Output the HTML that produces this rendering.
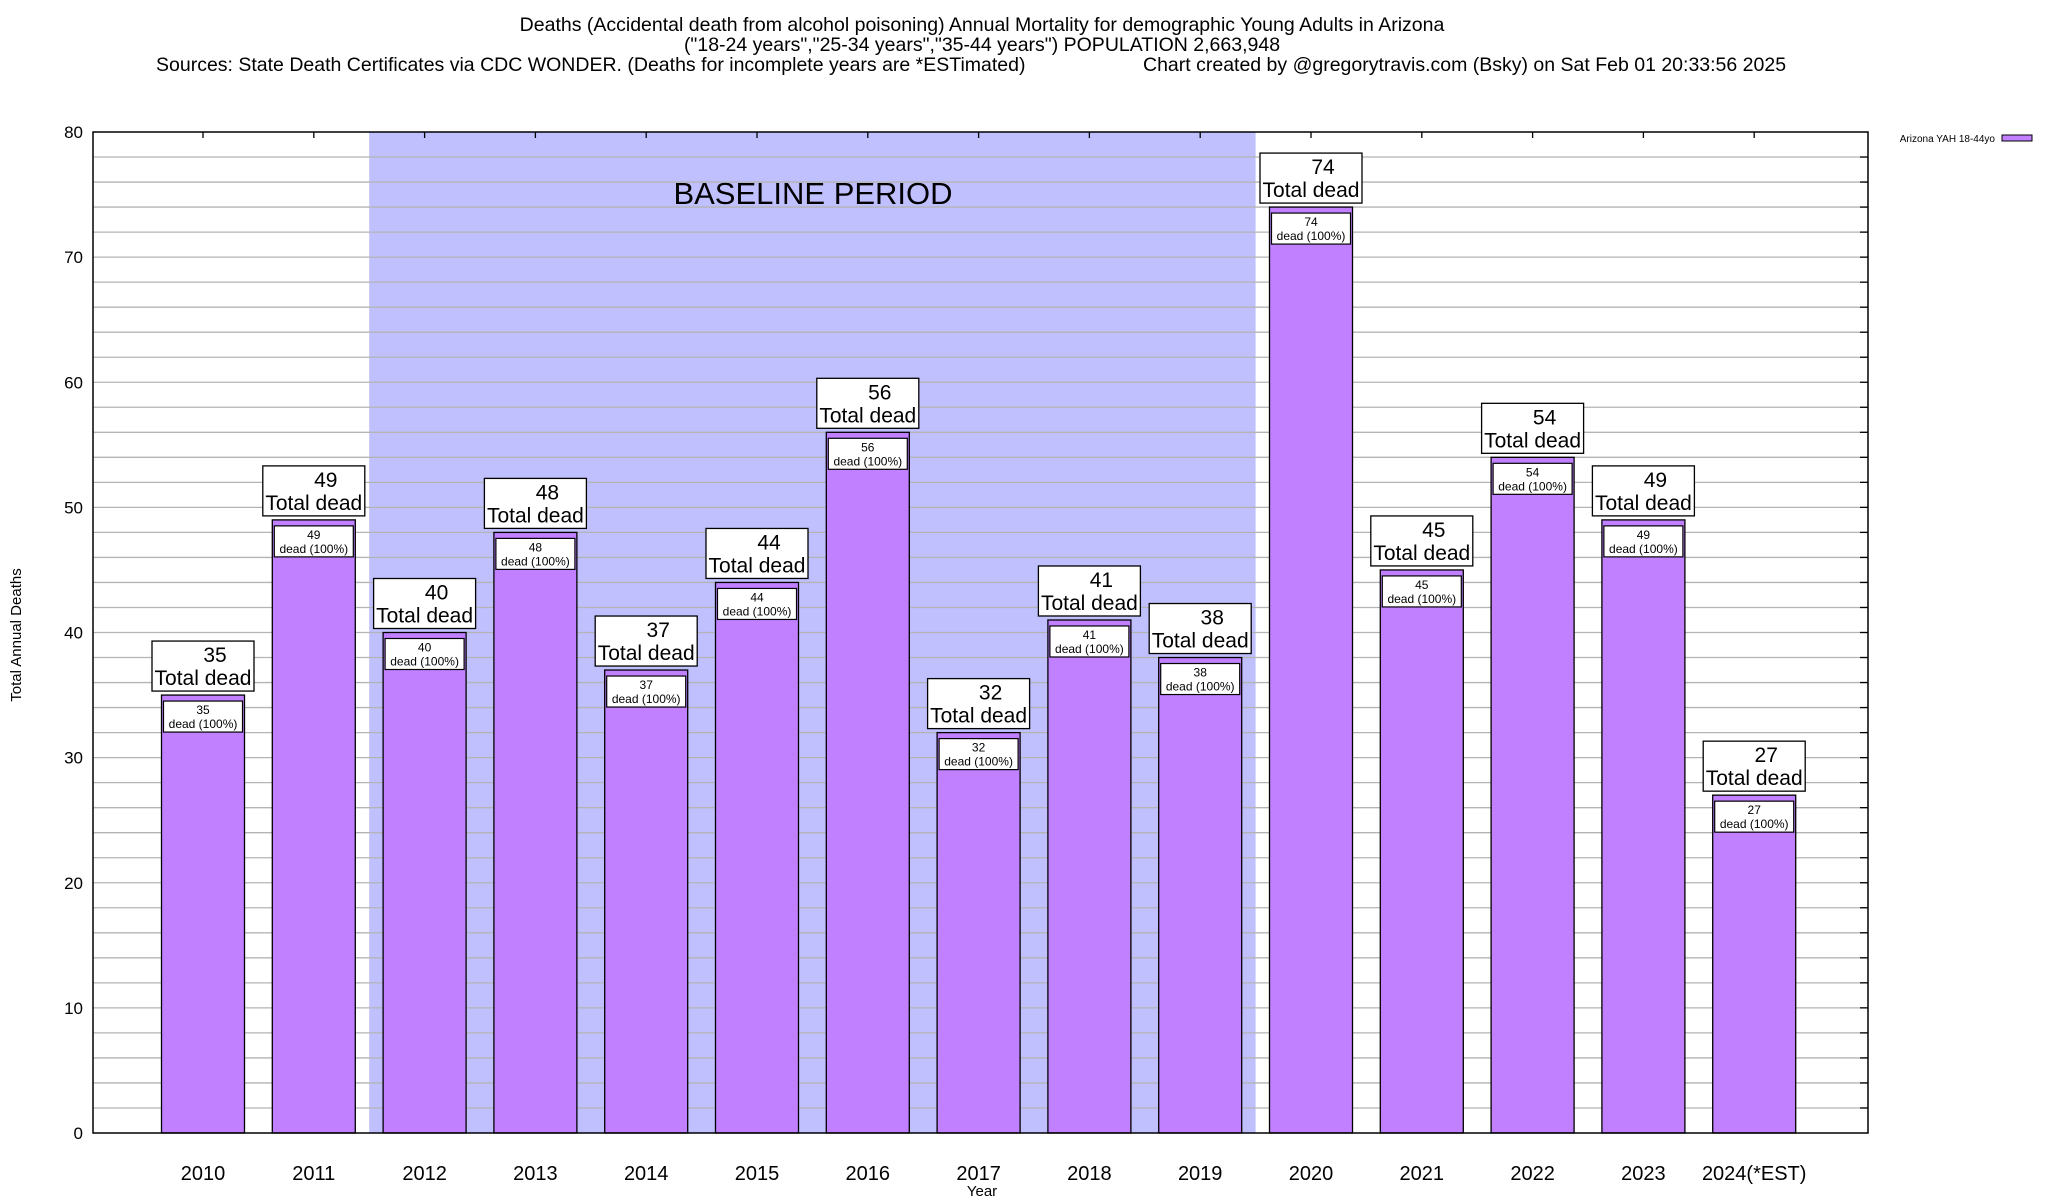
<!DOCTYPE html>
<html><head><meta charset="utf-8"><style>
html,body{margin:0;padding:0;background:#fff;}
svg{display:block;font-family:"Liberation Sans",Arial,sans-serif;}
</style></head><body>
<svg id="chart" width="2048" height="1200" viewBox="0 0 2048 1200">
<g font-size="19.5" fill="#000">
<text x="982" y="31" text-anchor="middle">Deaths (Accidental death from alcohol poisoning) Annual Mortality for demographic Young Adults in Arizona</text>
<text x="982" y="51" text-anchor="middle">("18-24 years","25-34 years","35-44 years") POPULATION 2,663,948</text>
<text x="156" y="71">Sources: State Death Certificates via CDC WONDER. (Deaths for incomplete years are *ESTimated)</text>
<text x="1143" y="71">Chart created by @gregorytravis.com (Bsky) on Sat Feb 01 20:33:56 2025</text>
</g>
<g id="plot"></g>
<text x="21" y="635" font-size="15" text-anchor="middle" transform="rotate(-90 21 635)">Total Annual Deaths</text>
<text x="982" y="1196" font-size="15" text-anchor="middle">Year</text>
<g>
<text x="1995" y="142" font-size="10" text-anchor="end">Arizona YAH 18-44yo</text>
<rect x="2002" y="135" width="30" height="6" fill="#c080ff" stroke="#000" stroke-width="1"/>
</g>
</svg>
<script>
const categories = ["2010","2011","2012","2013","2014","2015","2016","2017","2018","2019","2020","2021","2022","2023","2024(*EST)"];
const deaths = [35,49,40,48,37,44,56,32,41,38,74,45,54,49,27];
const yTicks = [0,10,20,30,40,50,60,70,80];
const baselineStart = 2; // index of 2012
const baselineEnd = 9;   // index of 2019

const NS = "http://www.w3.org/2000/svg";
const L = 93, R = 1868, T = 132, B = 1133;
const yMax = 80;
const step = 110.8, x0 = 203, barW = 83;
function y(v){ return B - (v / yMax) * (B - T); }
function x(i){ return x0 + i * step; }
const g = document.getElementById('plot');
function mk(tag, attrs, parent){
  const e = document.createElementNS(NS, tag);
  for (const k in attrs) e.setAttribute(k, attrs[k]);
  (parent || g).appendChild(e);
  return e;
}
const shade = mk('rect', {x: x(baselineStart - 0.5), y: T, width: x(baselineEnd + 0.5) - x(baselineStart - 0.5), height: B - T, fill: '#c0c0ff'});


const bl = mk('text', {x: 813, y: 204, 'font-size': 31, 'text-anchor': 'middle'});
bl.textContent = 'BASELINE PERIOD';


for (let v = 2; v < yMax; v += 2) {
  const ln = mk('line', {x1: L, x2: R, y1: y(v), y2: y(v), stroke: '#b4b4b4', 'stroke-width': 1.3});
  
  
  const tk = mk('line', {x1: R - 8, x2: R, y1: y(v), y2: y(v), stroke: '#000', 'stroke-width': 1.3});
  
  
}
yTicks.forEach(v => {
  const t = mk('text', {x: 83, y: y(v) + 6, 'font-size': 17, 'text-anchor': 'end'});
  t.textContent = v;
  
  
});
categories.forEach((c, i) => {
  const v = deaths[i];
  const cx = x(i), bx = cx - barW / 2, top = y(v);
  const bar = mk('rect', {x: bx, y: top, width: barW, height: B - top, fill: '#c080ff', stroke: '#000', 'stroke-width': 1.3});
  
  
  const ib = mk('rect', {x: bx + 2, y: top + 6, width: barW - 4, height: 31, fill: '#fff', stroke: '#000', 'stroke-width': 1.2});
  
  
  const t1 = mk('text', {x: cx, y: top + 19, 'font-size': 12, 'text-anchor': 'middle'});
  t1.textContent = v;
  
  
  const t2 = mk('text', {x: cx, y: top + 33, 'font-size': 12, 'text-anchor': 'middle'});
  t2.textContent = 'dead (100%)';
  
  
  const ob = mk('rect', {x: cx - 51, y: top - 54, width: 102, height: 50, fill: '#fff', stroke: '#000', 'stroke-width': 1.3});
  
  
  const o1 = mk('text', {x: cx + 12, y: top - 33, 'font-size': 21, 'text-anchor': 'middle'});
  o1.textContent = v;
  
  
  const o2 = mk('text', {x: cx, y: top - 10, 'font-size': 21, 'text-anchor': 'middle'});
  o2.textContent = 'Total dead';
  
  
  const xt = mk('text', {x: cx, y: 1180, 'font-size': 20, 'text-anchor': 'middle'});
  xt.textContent = c;
  
  
  const tt = mk('line', {x1: cx, x2: cx, y1: T, y2: T + 6, stroke: '#000', 'stroke-width': 1.3});
  
  
});
const frame = mk('rect', {x: L, y: T, width: R - L, height: B - T, fill: 'none', stroke: '#000', 'stroke-width': 1.5});


</script>
</body></html>
